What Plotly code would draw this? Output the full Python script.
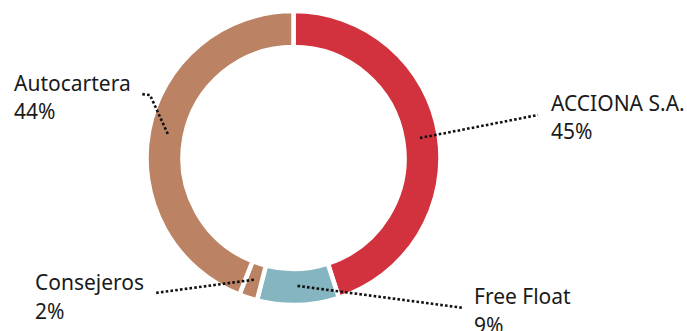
import math
import plotly.graph_objects as go

labels = ["ACCIONA S.A.", "Free Float", "Consejeros", "Autocartera"]
values = [45, 9, 2, 44]
pct_text = ["45%", "9%", "2%", "44%"]
colors = ["#d1323d", "#84b5c0", "#bb8264", "#bb8264"]

W, H = 687, 331
CX, CY, R = 293.5, 158.0, 147.0
HOLE = 0.755
RMID = 128.0

# label anchor (left x, first-line y, second-line y) and leader-line elbow
label_pos = {
    "ACCIONA S.A.": (549, 103, 131, [(538, 115)]),
    "Free Float": (472, 296, 325, [(464, 308)]),
    "Consejeros": (33, 282, 311, [(155, 293)]),
    "Autocartera": (12, 83, 111, [(150, 95), (141, 94)]),
}

fig = go.Figure()
fig.add_trace(go.Pie(
    labels=labels, values=values, sort=False, direction="clockwise", rotation=0,
    hole=HOLE, textinfo="none", hoverinfo="label+percent",
    marker=dict(colors=colors, line=dict(color="white", width=4.5)),
    domain=dict(x=[(CX - R) / W, (CX + R) / W], y=[(H - CY - R) / H, (H - CY + R) / H]),
    showlegend=False,
))

total = sum(values)
cum = 0
annotations = []
shapes = []
for lab, v, pt in zip(labels, values, pct_text):
    mid = (cum + v / 2) / total * 360
    cum += v
    a = math.radians(mid)
    px = CX + RMID * math.sin(a)
    py = CY - RMID * math.cos(a)
    lx, y1, y2, elbow = label_pos[lab]
    pts = [(px, py)] + elbow
    path = "M " + " L ".join(f"{x:.1f},{y:.1f}" for x, y in pts)
    shapes.append(dict(type="path", path=path, xref="x", yref="y", layer="above",
                       line=dict(color="#111111", width=2.6, dash="2.6px,2.2px")))
    for txt, yy in ((lab, y1), (pt, y2)):
        annotations.append(dict(x=lx, y=yy, xref="x", yref="y", text=txt, showarrow=False,
                                xanchor="left", yanchor="middle",
                                font=dict(family="Noto Sans", size=21, color="#1a1a1a")))

fig.update_layout(
    width=W, height=H, margin=dict(l=0, r=0, t=0, b=0),
    paper_bgcolor="white", plot_bgcolor="rgba(0,0,0,0)",
    xaxis=dict(range=[0, W], visible=False, fixedrange=True),
    yaxis=dict(range=[H, 0], visible=False, fixedrange=True),
    annotations=annotations, shapes=shapes,
)
fig.write_html("out.html", config={"displayModeBar": False},
               post_script="document.body.style.margin='0';document.body.style.overflow='hidden';")
